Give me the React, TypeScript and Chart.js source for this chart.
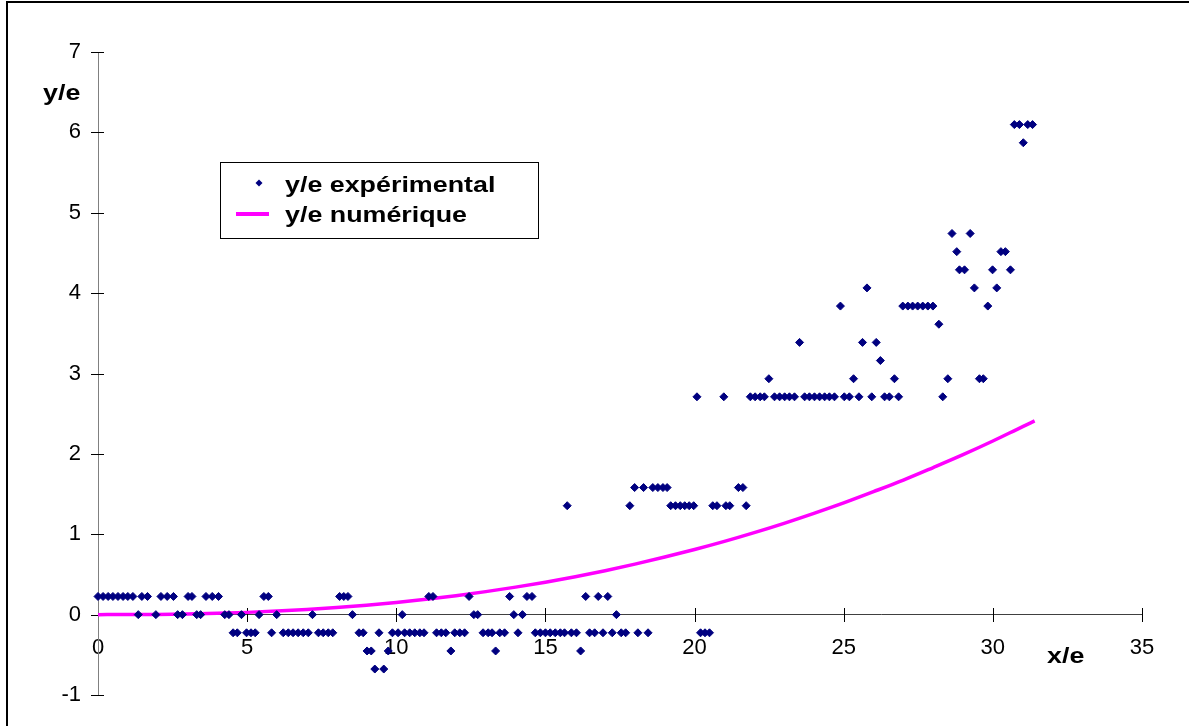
import { useEffect, useRef } from "react";
import { Chart, registerables } from "chart.js";

Chart.register(...registerables);

// Experimental points (x/e, y/e)
const expX = [
  0, 0.17, 0.34, 0.5, 0.67, 0.84, 1.0, 1.17, 1.35, 1.47, 1.66, 1.94, 2.11, 2.32, 2.53, 2.67, 2.83,
  3.02, 3.15, 3.31, 3.44, 3.62, 3.83, 4.04, 4.25, 4.39, 4.53, 4.67, 4.81, 4.98, 5.13, 5.27, 5.4,
  5.56, 5.71, 5.82, 5.99, 6.21, 6.38, 6.54, 6.71, 6.88, 7.05, 7.19, 7.39, 7.55, 7.72, 7.87, 8.1,
  8.24, 8.38, 8.53, 8.75, 8.89, 9.02, 9.16, 9.28, 9.42, 9.58, 9.73, 9.87, 10.06, 10.2, 10.28,
  10.45, 10.62, 10.79, 10.93, 11.09, 11.23, 11.35, 11.51, 11.66, 11.83, 11.96, 12.13, 12.29,
  12.44, 12.6, 12.73, 12.91, 13.08, 13.21, 13.33, 13.47, 13.63, 13.8, 13.94, 14.08, 14.23, 14.38,
  14.55, 14.66, 14.83, 15.0, 15.16, 15.33, 15.5, 15.64, 15.73, 15.87, 16.04, 16.18, 16.35, 16.48,
  16.65, 16.77, 16.93, 17.09, 17.24, 17.38, 17.54, 17.69, 17.83, 17.99, 18.1, 18.29, 18.44, 18.6,
  18.77, 18.94, 19.08, 19.2, 19.36, 19.52, 19.67, 19.82, 19.97, 20.08, 20.2, 20.35, 20.5, 20.61,
  20.75, 20.98, 21.05, 21.18, 21.47, 21.62, 21.73, 21.87, 22.03, 22.2, 22.34, 22.49, 22.68, 22.85,
  23.02, 23.18, 23.35, 23.52, 23.69, 23.85, 24.02, 24.19, 24.36, 24.52, 24.69, 24.89, 25.02,
  25.19, 25.33, 25.51, 25.63, 25.78, 25.94, 26.09, 26.23, 26.37, 26.53, 26.7, 26.84, 26.98,
  27.15, 27.31, 27.48, 27.65, 27.82, 27.99, 28.19, 28.32, 28.49, 28.63, 28.79, 28.88, 29.05,
  29.24, 29.38, 29.55, 29.68, 29.83, 29.99, 30.13, 30.27, 30.42, 30.59, 30.72, 30.89, 31.02,
  31.17, 31.33,
];
const expY = [
  0.226, 0.226, 0.226, 0.226, 0.226, 0.226, 0.226, 0.226, 0, 0.226, 0.226, 0, 0.226, 0.226, 0.226, 0, 0,
  0.226, 0.226, 0, 0, 0.226, 0.226, 0.226, 0, 0, -0.226, -0.226, 0, -0.226, -0.226, -0.226, 0,
  0.226, 0.226, -0.226, 0, -0.226, -0.226, -0.226, -0.226, -0.226, -0.226, 0, -0.226, -0.226, -0.226, -0.226, 0.226,
  0.226, 0.226, 0, -0.226, -0.226, -0.452, -0.452, -0.677, -0.226, -0.677, -0.452, -0.226, -0.226, 0, -0.226,
  -0.226, -0.226, -0.226, -0.226, 0.226, 0.226, -0.226, -0.226, -0.226, -0.452, -0.226, -0.226, -0.226,
  0.226, 0, 0, -0.226, -0.226, -0.226, -0.452, -0.226, -0.226, 0.226, 0, -0.226, 0, 0.226,
  0.226, -0.226, -0.226, -0.226, -0.226, -0.226, -0.226, -0.226, 1.355, -0.226, -0.226, -0.452, 0.226, -0.226,
  -0.226, 0.226, -0.226, 0.226, -0.226, 0, -0.226, -0.226, 1.355, 1.581, -0.226, 1.581, -0.226, 1.581,
  1.581, 1.581, 1.581, 1.355, 1.355, 1.355, 1.355, 1.355, 1.355, 2.71, -0.226, -0.226, -0.226, 1.355,
  1.355, 2.71, 1.355, 1.355, 1.581, 1.581, 1.355, 2.71, 2.71, 2.71, 2.71, 2.935, 2.71, 2.71,
  2.71, 2.71, 2.71, 3.387, 2.71, 2.71, 2.71, 2.71, 2.71, 2.71, 2.71, 3.839, 2.71,
  2.71, 2.935, 2.71, 3.387, 4.065, 2.71, 3.387, 3.161, 2.71, 2.71, 2.935, 2.71, 3.839,
  3.839, 3.839, 3.839, 3.839, 3.839, 3.839, 3.613, 2.71, 2.935, 4.742, 4.516, 4.29, 4.29,
  4.742, 4.065, 2.935, 2.935, 3.839, 4.29, 4.065, 4.516, 4.516, 4.29, 6.097, 6.097, 5.871,
  6.097, 6.097,
];

// Numerical curve (x/e, y/e)
const numX = [0, 1, 2, 3, 4, 5, 6, 7, 8, 9, 10, 11, 12, 13, 14, 15, 16, 17, 18, 19, 20, 21, 22, 23, 24, 25, 26, 27, 28, 29, 30, 31, 31.4];
const numY = [0, 0.001, 0.003, 0.008, 0.016, 0.028, 0.044, 0.064, 0.088, 0.117, 0.151, 0.19, 0.235, 0.286, 0.342, 0.404, 0.472, 0.547, 0.628, 0.716, 0.81, 0.911, 1.02, 1.136, 1.26, 1.39, 1.53, 1.674, 1.83, 1.99, 2.16, 2.34, 2.41];

const xTicks = [0, 5, 10, 15, 20, 25, 30, 35];
const yTicks = [-1, 0, 1, 2, 3, 4, 5, 6, 7];
const seriesLabels = ["y/e expérimental", "y/e numérique"];
const xTitle = "x/e";
const yTitle = "y/e";

const FONT = '"Liberation Sans", Arial, Helvetica, sans-serif';
const NAVY = "#000080";
const PINK = "#FF00FF";

export default function App() {
  const ref = useRef<HTMLCanvasElement>(null);

  useEffect(() => {
    const canvas = ref.current;
    if (!canvas) return;

    const drawStretched = (ctx: CanvasRenderingContext2D, text: string, x: number, y: number) => {
      ctx.save();
      ctx.translate(x, y);
      ctx.scale(1.22, 1);
      ctx.fillText(text, 0, 0);
      ctx.restore();
    };

    const decor = {
      id: "decor",
      beforeDraw(chart: any) {
        const ctx = chart.ctx as CanvasRenderingContext2D;
        ctx.save();
        ctx.fillStyle = "#ffffff";
        ctx.fillRect(0, 0, chart.width, chart.height);
        ctx.fillStyle = "#000000";
        ctx.fillRect(6, 1, 2, chart.height);
        ctx.fillRect(6, 1, chart.width, 2);
        ctx.restore();
      },
      beforeDatasetsDraw(chart: any) {
        const ctx = chart.ctx as CanvasRenderingContext2D;
        const xs = chart.scales.x;
        const ys = chart.scales.y;
        const x0 = Math.round(xs.getPixelForValue(0));
        const y0 = Math.round(ys.getPixelForValue(0));
        ctx.save();
        ctx.strokeStyle = "#000000";
        ctx.lineWidth = 1;
        ctx.beginPath();
        yTicks.forEach((v) => {
          const py = Math.round(ys.getPixelForValue(v)) + 0.5;
          ctx.moveTo(x0 - 7, py);
          ctx.lineTo(x0 + 6, py);
        });
        xTicks.forEach((v) => {
          if (v === 0) return;
          const px = Math.round(xs.getPixelForValue(v)) + 0.5;
          ctx.moveTo(px, y0 - 7);
          ctx.lineTo(px, y0 + 7);
        });
        ctx.stroke();
        ctx.restore();
      },
      afterDraw(chart: any) {
        const ctx = chart.ctx as CanvasRenderingContext2D;
        ctx.save();
        ctx.fillStyle = "#000000";
        ctx.font = `bold 22px ${FONT}`;
        ctx.textAlign = "left";
        ctx.textBaseline = "alphabetic";
        drawStretched(ctx, yTitle, 43, 100);
        drawStretched(ctx, xTitle, 1047, 663);

        // legend box
        ctx.fillStyle = "#ffffff";
        ctx.fillRect(220, 162, 318, 76);
        ctx.strokeStyle = "#000000";
        ctx.lineWidth = 1;
        ctx.strokeRect(220.5, 162.5, 318, 76);
        // marker
        ctx.fillStyle = NAVY;
        ctx.beginPath();
        ctx.moveTo(259, 179.5);
        ctx.lineTo(262.5, 183);
        ctx.lineTo(259, 186.5);
        ctx.lineTo(255.5, 183);
        ctx.closePath();
        ctx.fill();
        // line sample
        ctx.strokeStyle = PINK;
        ctx.lineWidth = 4;
        ctx.beginPath();
        ctx.moveTo(236, 214);
        ctx.lineTo(269, 214);
        ctx.stroke();
        ctx.fillStyle = "#000000";
        ctx.font = `bold 22px ${FONT}`;
        drawStretched(ctx, seriesLabels[0], 285, 192);
        drawStretched(ctx, seriesLabels[1], 285, 222);
        ctx.restore();
      },
    };

    const chart = new Chart(canvas, {
      type: "scatter",
      data: {
        datasets: [
          {
            label: seriesLabels[0],
            data: expX.map((x, i) => ({ x, y: expY[i] })),
            pointStyle: "rectRot",
            pointRadius: 4,
            pointHoverRadius: 4,
            backgroundColor: NAVY,
            borderColor: NAVY,
            borderWidth: 1,
            showLine: false,
            clip: false,
          },
          {
            label: seriesLabels[1],
            data: numX.map((x, i) => ({ x, y: numY[i] })),
            showLine: true,
            borderColor: PINK,
            backgroundColor: PINK,
            borderWidth: 3.5,
            pointRadius: 0,
            pointHoverRadius: 0,
            cubicInterpolationMode: "monotone",
            fill: false,
            clip: false,
          } as any,
        ],
      },
      options: {
        responsive: false,
        animation: false,
        events: [],
        layout: { padding: { left: 0, top: 52, right: 47, bottom: 31 } },
        plugins: { legend: { display: false }, tooltip: { enabled: false } },
        scales: {
          x: {
            type: "linear",
            min: 0,
            max: 35,
            position: { y: 0 } as any,
            afterBuildTicks: (s: any) => {
              s.ticks = xTicks.map((v) => ({ value: v }));
            },
            ticks: {
              font: { family: FONT, size: 22 },
              color: "#000000",
              padding: 20,
              maxRotation: 0,
              autoSkip: false,
            },
            grid: { display: false, drawTicks: false },
            border: { display: true, color: "#404040", width: 1 },
          },
          y: {
            type: "linear",
            min: -1,
            max: 7,
            position: "left",
            afterFit: (s: any) => {
              s.width = 98;
            },
            afterBuildTicks: (s: any) => {
              s.ticks = yTicks.map((v) => ({ value: v }));
            },
            ticks: {
              font: { family: FONT, size: 22 },
              color: "#000000",
              padding: 17,
              autoSkip: false,
            },
            grid: { display: false, drawTicks: false },
            border: { display: true, color: "#808080", width: 1 },
          },
        },
      },
      plugins: [decor],
    });

    return () => chart.destroy();
  }, []);

  return (
    <div style={{ position: "fixed", left: 0, top: 0, width: 1189, height: 726, background: "#ffffff" }}>
      <canvas ref={ref} width={1189} height={726} style={{ display: "block" }} />
    </div>
  );
}
